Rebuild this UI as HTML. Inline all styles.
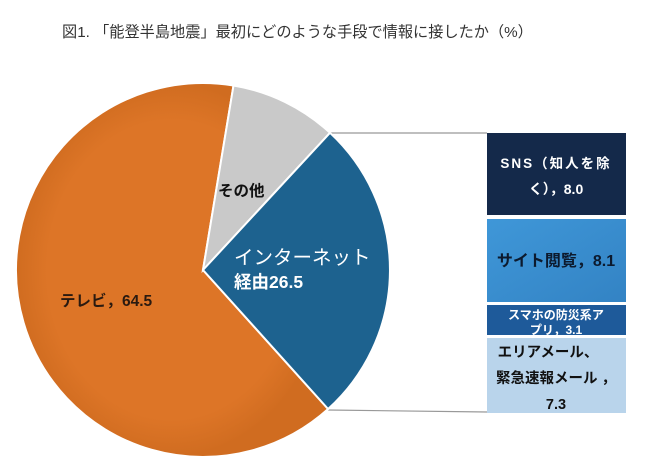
<!DOCTYPE html>
<html><head><meta charset="utf-8"><style>
body{margin:0;background:#fff;width:645px;height:474px;overflow:hidden;font-family:"Liberation Sans","Noto Sans CJK JP",sans-serif;}
</style></head><body>
<svg width="645" height="474" xmlns="http://www.w3.org/2000/svg" style="position:absolute;left:0;top:0">
<defs>
<radialGradient id="go" cx="50%" cy="50%" r="50%"><stop offset="0.8" stop-color="#dd7527"/><stop offset="1" stop-color="#d06c20"/></radialGradient>
<linearGradient id="gs" x1="0" y1="0" x2="1" y2="1"><stop offset="0" stop-color="#3f97d8"/><stop offset="1" stop-color="#3383c4"/></linearGradient>
</defs>
<text x="62" y="37" font-size="15.2" fill="#333" font-family="Liberation Sans,Noto Sans CJK JP,sans-serif">図1. 「能登半島地震」最初にどのような手段で情報に接したか（%）</text>
<line x1="330" y1="133" x2="487" y2="133" stroke="#999" stroke-width="1.2"/>
<line x1="328" y1="410" x2="487" y2="412" stroke="#999" stroke-width="1.2"/>
<path d="M203,270 L328.1,409 A187,187 0 1 1 233.5,85.5 Z" fill="url(#go)" stroke="#fff" stroke-width="2"/>
<path d="M203,270 L233.5,85.5 A187,187 0 0 1 330,132.8 Z" fill="#c9c9c9" stroke="#fff" stroke-width="2"/>
<path d="M203,270 L330,132.8 A187,187 0 0 1 328.1,409 Z" fill="#1d628f" stroke="#fff" stroke-width="2"/>
<text x="218" y="196" font-size="15.5" font-weight="bold" fill="#111">その他</text>
<text x="234" y="264" font-size="19.5" fill="#fff">インターネット</text>
<text x="234" y="288" font-size="17.5" font-weight="bold" fill="#fff">経由26.5</text>
<text x="60" y="306" font-size="15.5" font-weight="bold" fill="#2a1a10">テレビ，64.5</text>
<rect x="487" y="133" width="139" height="82" fill="#14294a"/>
<rect x="487" y="219" width="139" height="83" fill="url(#gs)"/>
<rect x="487" y="305" width="139" height="30" fill="#1e5a9a"/>
<rect x="487" y="338" width="139" height="75" fill="#b9d4eb"/>
<g font-weight="bold" text-anchor="middle">
<text x="556" y="168" font-size="13.5" fill="#fff" letter-spacing="2">SNS（知人を除</text>
<text x="556" y="194" font-size="14" fill="#fff">く），8.0</text>
<text x="556" y="266" font-size="16" fill="#0c1a2e">サイト閲覧，8.1</text>
<text x="556" y="319" font-size="12" fill="#fff">スマホの防災系ア</text>
<text x="556" y="334" font-size="12" fill="#fff">プリ，3.1</text>
<text x="548" y="357" font-size="14.5" fill="#111">エリアメール、</text>
<text x="556" y="383" font-size="14.5" fill="#111">緊急速報メール ，</text>
<text x="556" y="409" font-size="14.5" fill="#111">7.3</text>
</g>
</svg>
</body></html>
